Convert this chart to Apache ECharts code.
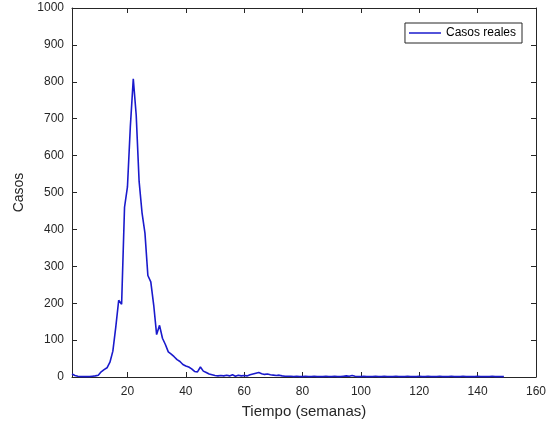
<!DOCTYPE html>
<html>
<head>
<meta charset="utf-8">
<script src="https://cdn.jsdelivr.net/npm/echarts@6/dist/echarts.min.js"></script>
<style>
  html, body { margin: 0; padding: 0; background: #fff; }
  #chart { width: 554px; height: 425px; }
</style>
</head>
<body>
<div id="chart"></div>
<script>
// weekly cases, week 1 .. 149
const casos = [
  8, 4, 2, 1, 1, 1, 1, 2, 3, 5,
  14, 20, 25, 40, 70, 135, 208, 197, 460, 515,
  680, 808, 710, 530, 445, 390, 275, 258, 195, 115,
  140, 105, 88, 68, 62, 55, 47, 42, 34, 30,
  27, 22, 15, 14, 27, 16, 12, 8, 6, 4,
  3, 4, 3, 5, 3, 6, 2, 5, 3, 4,
  3, 6, 8, 10, 12, 9, 7, 8, 6, 5,
  4, 5, 3, 2, 2, 2, 1, 2, 1, 1,
  2, 1, 1, 2, 1, 1, 1, 2, 1, 1,
  2, 1, 1, 2, 3, 2, 4, 2, 1, 1,
  2, 1, 1, 1, 2, 1, 1, 2, 1, 1,
  1, 2, 1, 1, 1, 2, 1, 1, 1, 2,
  1, 1, 2, 1, 1, 1, 2, 1, 1, 1,
  2, 1, 1, 1, 2, 1, 1, 1, 1, 2,
  1, 1, 1, 1, 2, 1, 1, 1, 1
];
const xTicks = [20, 40, 60, 80, 100, 120, 140, 160];
const serieNombre = "Casos reales";

const puntos = casos.map((v, i) => [i + 1, v]);

const axisColor = "#262626";
const lineColor = "#1a1acc";
const font = "Liberation Sans, Arial, sans-serif";

const chart = echarts.init(document.getElementById("chart"));

const xBase = {
  type: "value",
  min: 1,
  max: 160,
  axisLine: { show: true, onZero: false, lineStyle: { color: axisColor, width: 1 } },
  axisTick: { show: true, inside: true, length: 5, customValues: xTicks, lineStyle: { color: axisColor } },
  splitLine: { show: false },
};
const yBase = {
  type: "value",
  min: 0,
  max: 1000,
  interval: 100,
  axisLine: { show: true, lineStyle: { color: axisColor, width: 1 } },
  axisTick: { show: true, inside: true, length: 5, lineStyle: { color: axisColor } },
  splitLine: { show: false },
};

const option = {
  animation: false,
  backgroundColor: "#fff",
  grid: { left: 72, right: 18, top: 8, bottom: 48 },
  legend: {
    data: [{ name: serieNombre, icon: "rect" }],
    right: 32,
    top: 23,
    orient: "vertical",
    backgroundColor: "#fff",
    borderColor: axisColor,
    borderWidth: 1,
    borderRadius: 0,
    padding: [3, 6, 3, 4],
    itemWidth: 32,
    itemHeight: 1.5,
    itemGap: 0,
    itemStyle: { color: lineColor },
    textStyle: { fontFamily: font, fontSize: 12, color: "#000", lineHeight: 14, padding: [0, 0, 0, 0] },
  },
  xAxis: [
    Object.assign({}, xBase, {
      position: "bottom",
      name: "Tiempo (semanas)",
      nameLocation: "middle",
      nameGap: 27,
      nameTextStyle: { fontFamily: font, fontSize: 15, color: axisColor },
      axisLabel: {
        customValues: xTicks,
        margin: 9,
        fontFamily: font,
        fontSize: 12,
        color: axisColor,
      },
    }),
    Object.assign({}, xBase, {
      position: "top",
      axisLabel: { show: false },
    }),
  ],
  yAxis: [
    Object.assign({}, yBase, {
      position: "left",
      name: "Casos",
      nameLocation: "middle",
      nameGap: 42,
      nameTextStyle: { fontFamily: font, fontSize: 14, color: axisColor },
      axisLabel: {
        margin: 8,
        fontFamily: font,
        fontSize: 12,
        color: axisColor,
        formatter: (v) => String(v),
      },
    }),
    Object.assign({}, yBase, {
      position: "right",
      axisLabel: { show: false },
    }),
  ],
  series: [
    {
      name: serieNombre,
      type: "line",
      data: puntos,
      showSymbol: false,
      symbol: "none",
      lineStyle: { color: lineColor, width: 1.6 },
      itemStyle: { color: lineColor },
    },
  ],
};

chart.setOption(option);
</script>
</body>
</html>
